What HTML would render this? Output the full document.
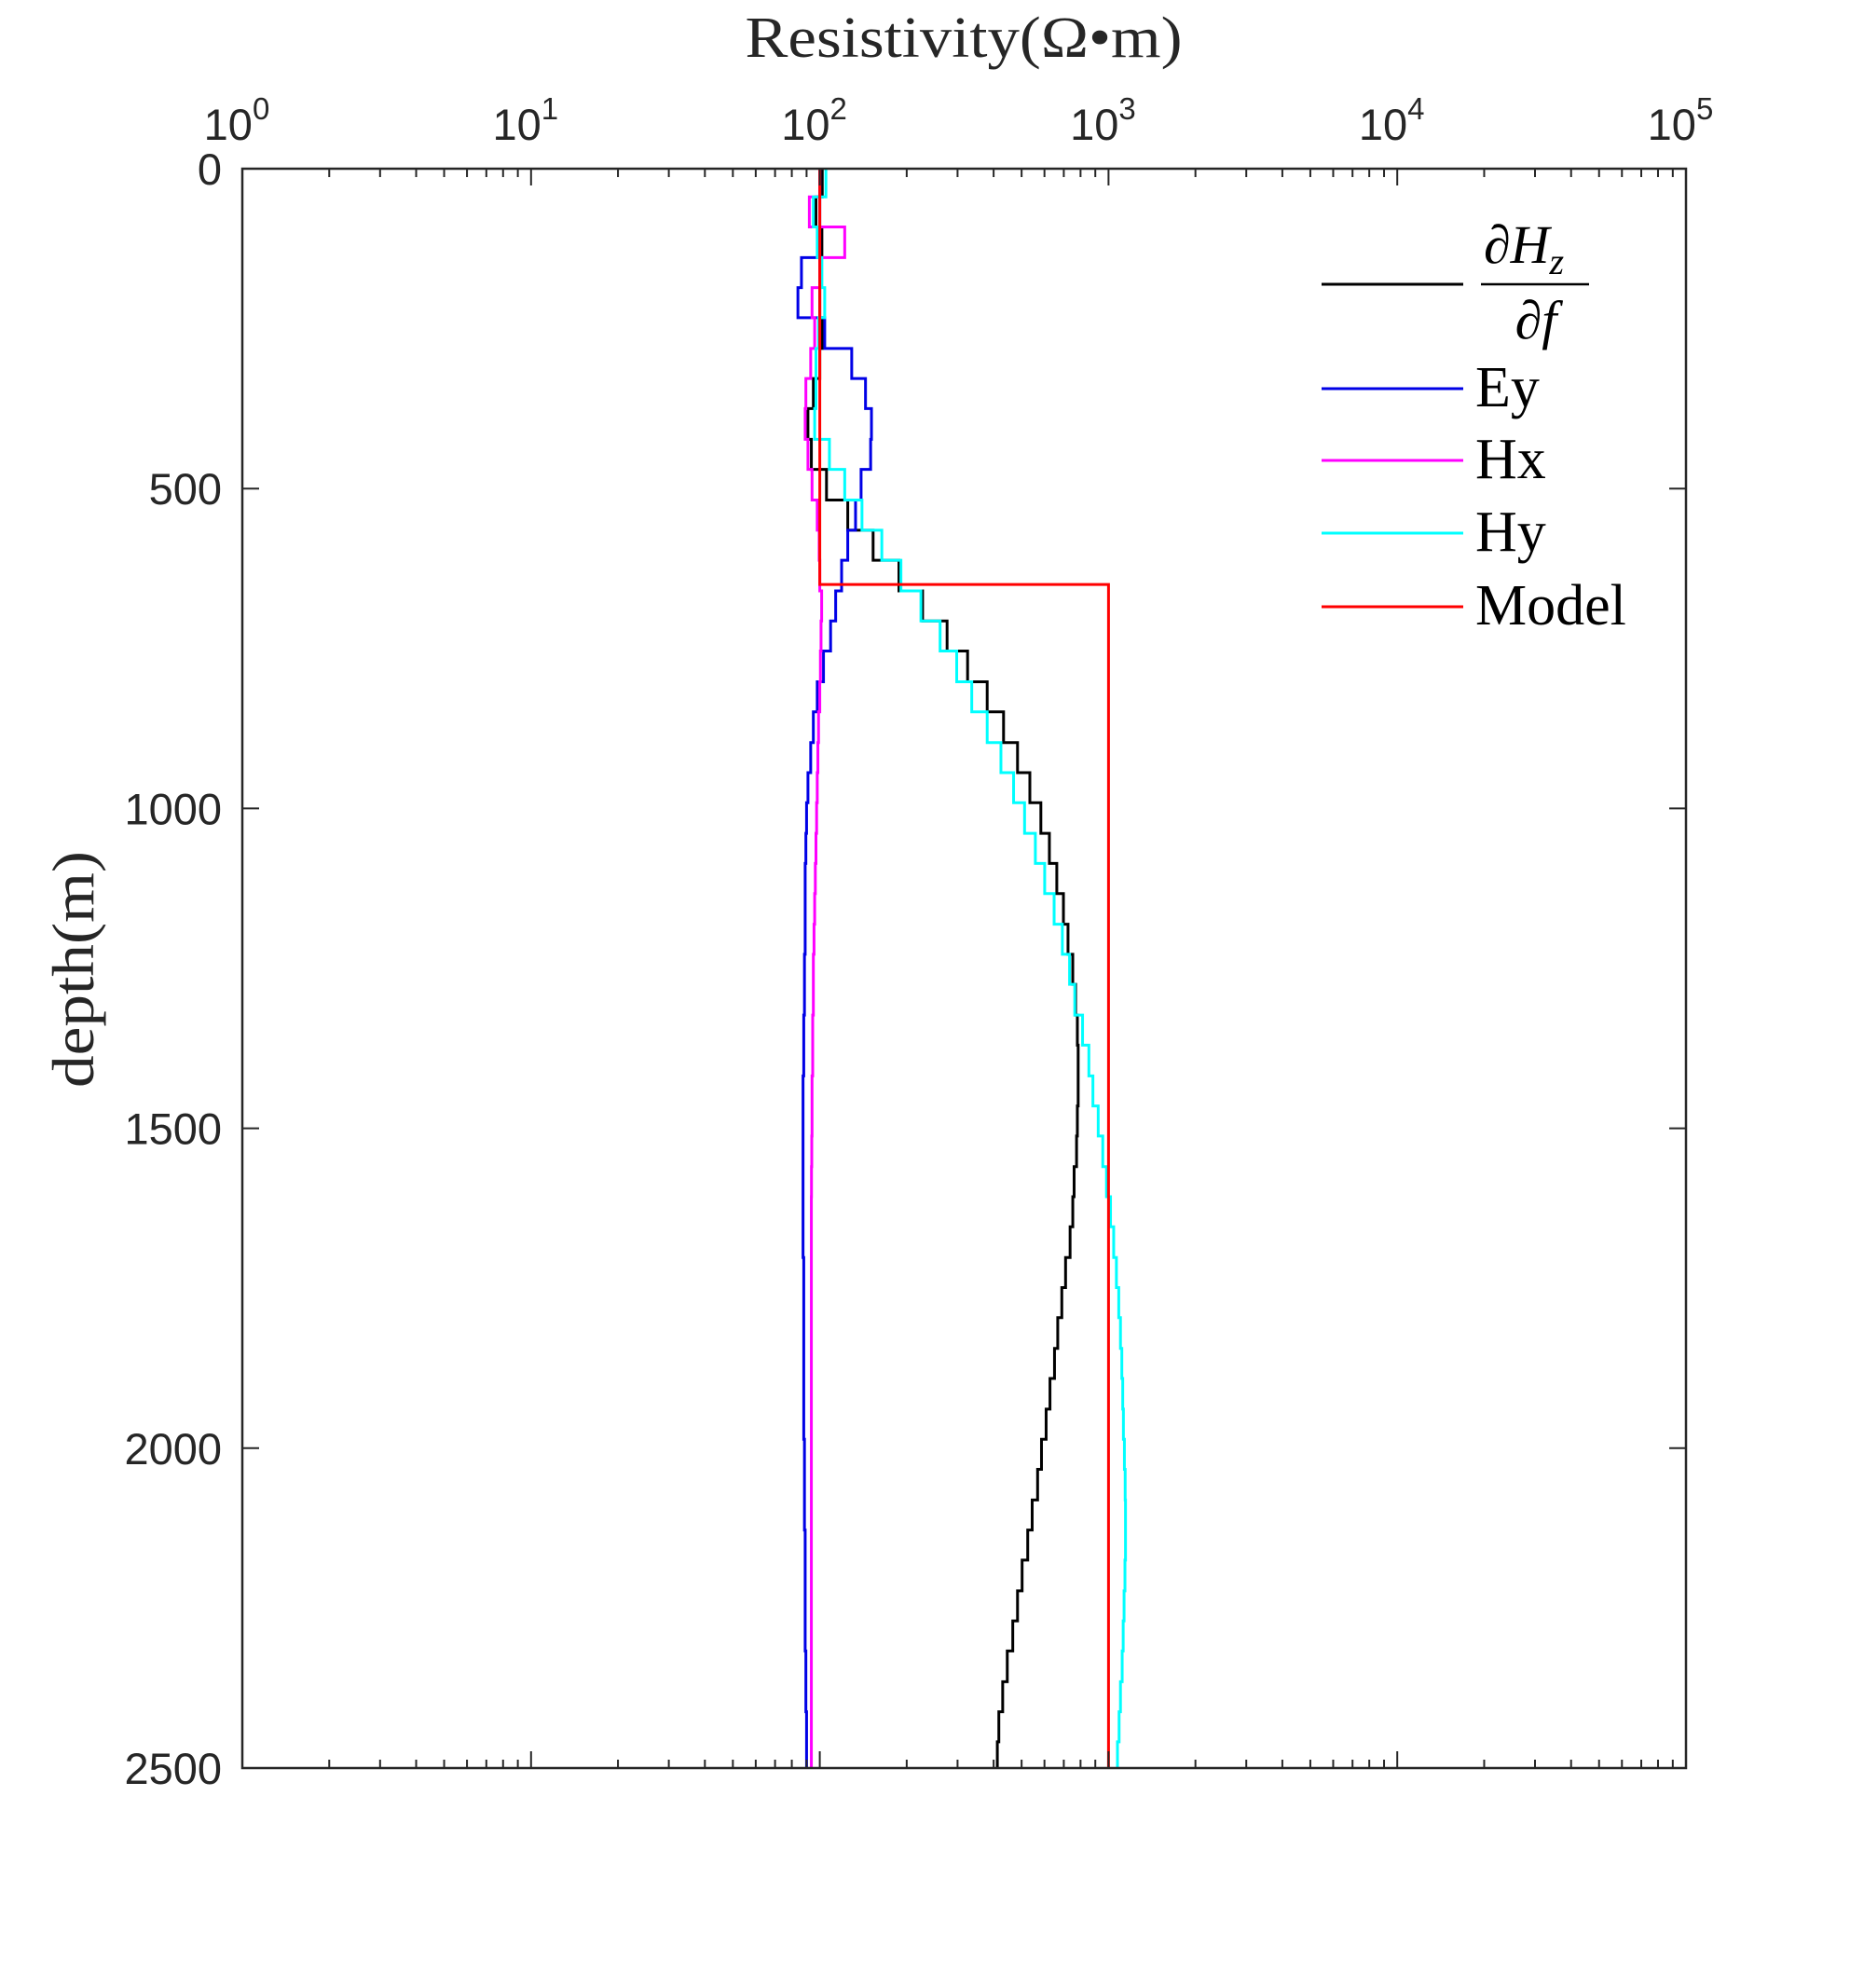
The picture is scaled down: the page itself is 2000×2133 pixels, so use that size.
<!DOCTYPE html>
<html><head><meta charset="utf-8">
<style>
html,body{margin:0;padding:0;background:#fff;}
svg{display:block;}
</style></head>
<body>
<svg id="chart" width="2000" height="2133" viewBox="0 0 2000 2133" xmlns="http://www.w3.org/2000/svg">
<rect width="2000" height="2133" fill="#fff"/>
<g id="series"></g>
<g id="axes"></g>
<text x="1034" y="61" text-anchor="middle" font-family="Liberation Serif, serif" font-size="62" fill="#262626" textLength="469" lengthAdjust="spacingAndGlyphs">Resistivity(Ω•m)</text>
<text transform="translate(100,1040) rotate(-90)" text-anchor="middle" font-family="Liberation Serif, serif" font-size="64" fill="#262626" textLength="254" lengthAdjust="spacingAndGlyphs">depth(m)</text>
<g>
  <line x1="1418" y1="305" x2="1570" y2="305" stroke="#000" stroke-width="3"/>
  <text x="1592" y="282" font-family="Liberation Serif, serif" font-style="italic" font-size="58" fill="#000">∂H<tspan font-size="40" dy="12">z</tspan></text>
  <line x1="1589" y1="305" x2="1705" y2="305" stroke="#000" stroke-width="2.5"/>
  <text x="1648" y="363" text-anchor="middle" font-family="Liberation Serif, serif" font-style="italic" font-size="58" fill="#000">∂f</text>
  <line x1="1418" y1="417" x2="1570" y2="417" stroke="#0000e6" stroke-width="3"/>
  <text x="1583" y="436" font-family="Liberation Serif, serif" font-size="62" fill="#000">Ey</text>
  <line x1="1418" y1="494" x2="1570" y2="494" stroke="#ff00ff" stroke-width="3"/>
  <text x="1583" y="513" font-family="Liberation Serif, serif" font-size="62" fill="#000">Hx</text>
  <line x1="1418" y1="572" x2="1570" y2="572" stroke="#00ffff" stroke-width="3"/>
  <text x="1583" y="591" font-family="Liberation Serif, serif" font-size="62" fill="#000">Hy</text>
  <line x1="1418" y1="651" x2="1570" y2="651" stroke="#ff0000" stroke-width="3"/>
  <text x="1583" y="670" font-family="Liberation Serif, serif" font-size="62" fill="#000">Model</text>
</g>
</svg>
<script>
// layer boundaries (m)
const depthBounds = [0,44,91,139,186,233,281,328,375,423,470,518,565,612,660,707,754,802,849,897,944,991,1039,1086,1133,1181,1228,1275,1323,1370,1418,1465,1512,1560,1607,1654,1702,1749,1796,1844,1891,1939,1986,2033,2081,2128,2175,2223,2270,2317,2365,2412,2459,2500];
const dhzValues = [102,97,101.7,100,100,102,100,95,91,93.5,105.5,125,153,188,227,276,325,380,433,484,534,583,624,662,698,724,752,769,780,785,785,780,775,760,752,736,710,689,667,650,627,608,586,568,544,525,502,484,466,446,430,417,412];
const eyValues = [100,100,100,86.4,84,104,129,144,151,150,139,133,125,119,113.5,109,103,98,95,93,91,90,89.5,89,89,89,88.5,88.5,88,88,87.5,87.5,87.5,87.5,87.5,87.5,88,88,88,88,88,88,88.5,88.5,88.5,89,89,89,89,89.5,89.5,90,90];
const hxValues = [100,92,122,100,94,96,93,89.5,89,91,94,98,99.5,100,101.5,101,100.5,100,99,98.5,98,97.5,97,96.5,96,95.5,95,95,94.5,94.5,94,94,93.8,93.6,93.5,93.5,93.5,93.5,93.5,93.5,93.5,93.5,93.5,93.5,93.5,93.5,93.5,93.5,93.5,93.5,93.5,93.5,93.5];
const hyValues = [105,95,98,101.7,104,99,97,97,96,108,122,140,164,191,224,261,298,336,380,424,469,512,558,601,648,692,733,764,813,855,883,921,955,984,1016,1042,1065,1085,1100,1112,1120,1126,1135,1142,1145,1145,1140,1132,1124,1115,1100,1088,1074];
const modelBounds = [0,650,2500];
const modelValues = [100,1000];
const xTickExps = [0,1,2,3,4,5];
const yTicks = [0,500,1000,1500,2000,2500];

const L=260,R=1809,T=181,B=1897;
const NS='http://www.w3.org/2000/svg';
function xs(v){return L+(R-L)*(Math.log10(v)-0)/5;}
function ys(d){return T+(B-T)*d/2500;}
function stepPath(bounds,vals){
  let p='M'+xs(vals[0]).toFixed(2)+','+ys(bounds[0]).toFixed(2);
  for(let i=0;i<vals.length;i++){
    const x=xs(vals[i]).toFixed(2);
    p+=' L'+x+','+ys(bounds[i]).toFixed(2)+' L'+x+','+ys(bounds[i+1]).toFixed(2);
  }
  return p;
}
const sg=document.getElementById('series');
function addSeries(name,bounds,vals,color){
  const el=document.createElementNS(NS,'path');
  el.setAttribute('d',stepPath(bounds,vals));
  el.setAttribute('fill','none');
  el.setAttribute('stroke',color);
  el.setAttribute('stroke-width','3');
  
  
  sg.appendChild(el);
}
addSeries('dhz-df-line',depthBounds,dhzValues,'#000000');
addSeries('ey-line',depthBounds,eyValues,'#0000e6');
addSeries('hx-line',depthBounds,hxValues,'#ff00ff');
addSeries('hy-line',depthBounds,hyValues,'#00ffff');
addSeries('model-line',modelBounds,modelValues,'#ff0000');

const ag=document.getElementById('axes');
function line(x1,y1,x2,y2,w){
  const l=document.createElementNS(NS,'line');
  l.setAttribute('x1',x1);l.setAttribute('y1',y1);l.setAttribute('x2',x2);l.setAttribute('y2',y2);
  l.setAttribute('stroke','#262626');l.setAttribute('stroke-width',w);
  
  
  ag.appendChild(l);
}
const frame=document.createElementNS(NS,'rect');
frame.setAttribute('x',L);frame.setAttribute('y',T);frame.setAttribute('width',R-L);frame.setAttribute('height',B-T);
frame.setAttribute('fill','none');frame.setAttribute('stroke','#262626');frame.setAttribute('stroke-width','2.5');


ag.appendChild(frame);
for(let e=0;e<5;e++){
  for(let m=1;m<10;m++){
    const x=xs(m*Math.pow(10,e));
    const len=(m===1)?18:9;
    if(m===1&&e===0)continue;
    line(x,T,x,T+len,2);
    line(x,B,x,B-len,2);
  }
}
xTickExps.forEach(function(e){
  const x=xs(Math.pow(10,e));
  const t=document.createElementNS(NS,'text');
  t.setAttribute('x',x-6);t.setAttribute('y',150);
  t.setAttribute('text-anchor','middle');
  t.setAttribute('font-family','Liberation Sans, sans-serif');
  t.setAttribute('font-size','47');t.setAttribute('fill','#262626');
  
  
  t.innerHTML='10<tspan font-size="33" dy="-22">'+e+'</tspan>';
  ag.appendChild(t);
});
yTicks.forEach(function(d){
  const y=ys(d);
  line(L,y,L+18,y,2);
  line(R,y,R-18,y,2);
  const t=document.createElementNS(NS,'text');
  t.setAttribute('x',238);t.setAttribute('y',y+17);
  t.setAttribute('text-anchor','end');
  t.setAttribute('font-family','Liberation Sans, sans-serif');
  t.setAttribute('font-size','47');t.setAttribute('fill','#262626');
  
  
  t.textContent=d;
  ag.appendChild(t);
});
</script>
</body></html>
